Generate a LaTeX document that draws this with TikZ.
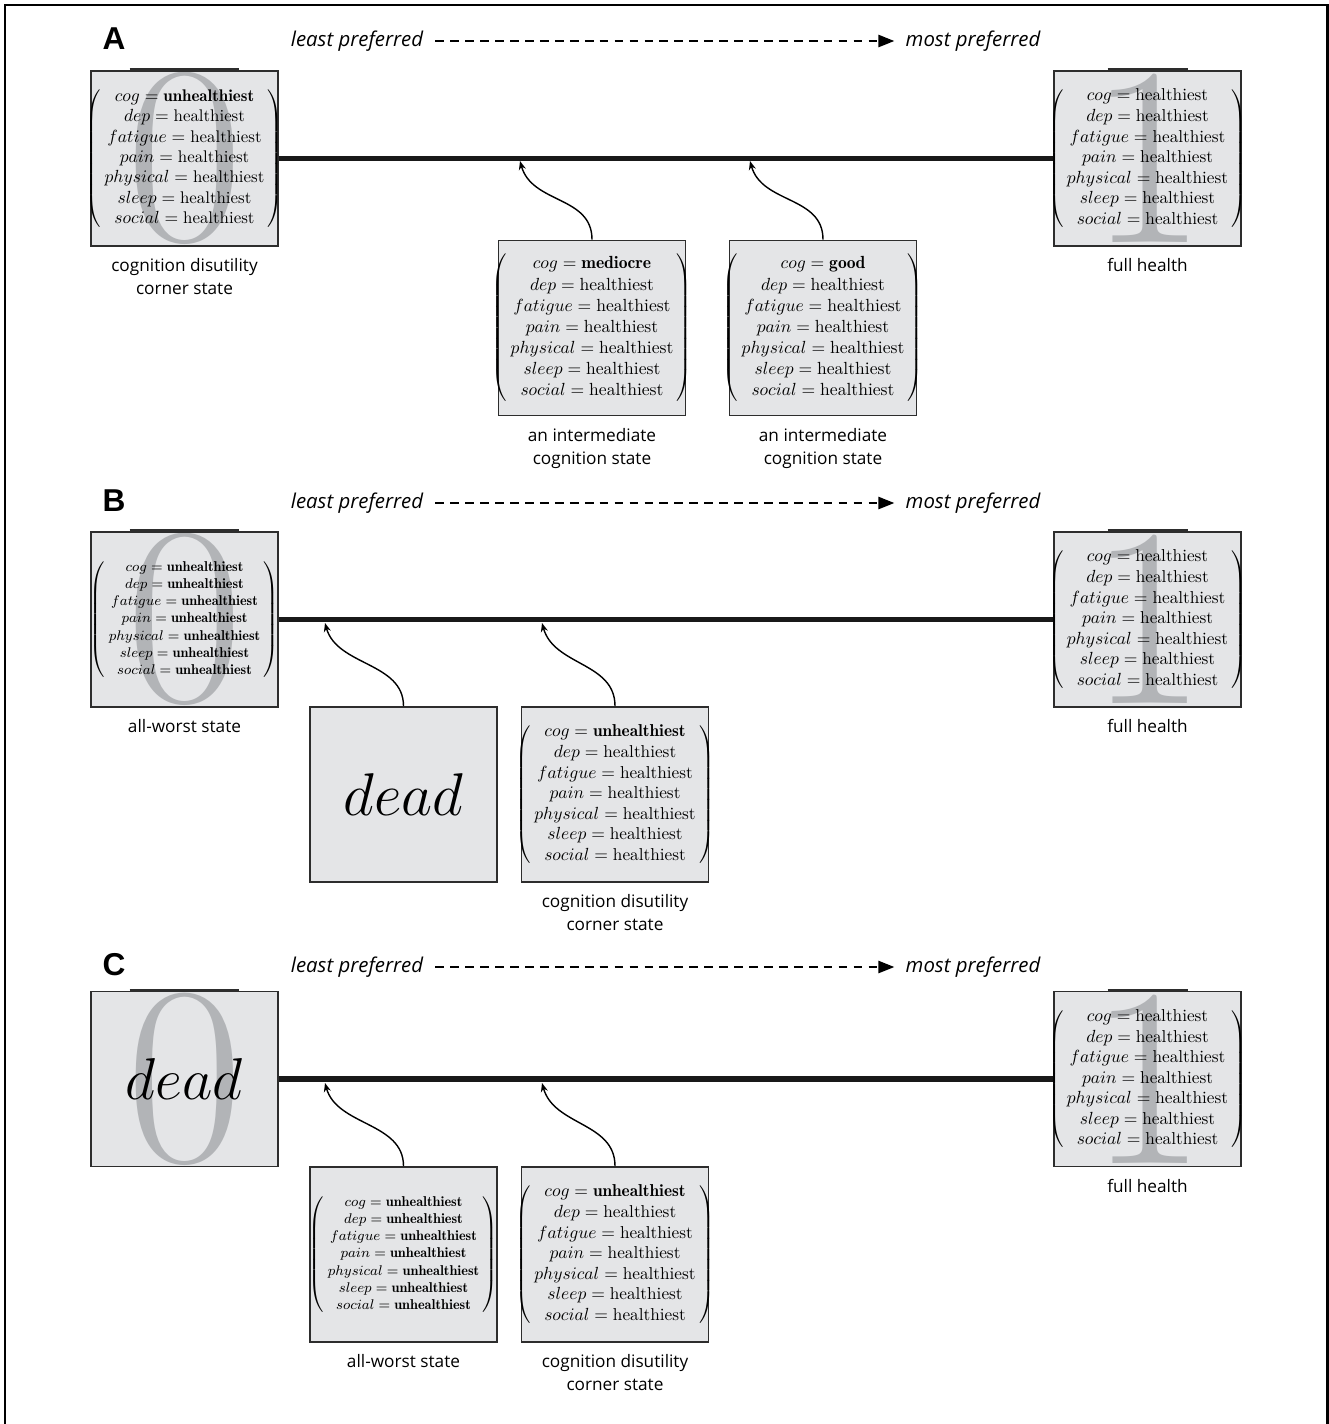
\documentclass[tikz,border=0pt]{standalone}
\usepackage{fontspec}
\newfontfamily\lblfont{Open Sans}
\newfontfamily\panfont{Liberation Sans}
\usetikzlibrary{arrows.meta,positioning}
\definecolor{boxgray}{RGB}{228,229,231}
\definecolor{digitgray}{RGB}{178,180,183}
\definecolor{edge}{RGB}{45,45,45}
\newcommand\hlth{\mathrm{healthiest}}
\newcommand\unh{\mathbf{unhealthiest}}
\newcommand\statevec[7]{$\left(\begin{array}{@{\hspace{2pt}}c@{\hspace{2pt}}}cog=#1\\dep=#2\\fatigue=#3\\pain=#4\\physical=#5\\sleep=#6\\social=#7\end{array}\right)$}

\begin{document}
\begin{tikzpicture}[x=0.02cm,y=-0.02cm,>=Stealth,
  stbox/.style={draw=edge,line width=1.1pt,fill=boxgray,minimum width=3.74cm,minimum height=3.5cm,inner sep=0pt},
  digit/.style={text=digitgray,font=\fontsize{145}{145}\selectfont,inner sep=0pt},
  lbl/.style={font=\lblfont\fontsize{9.8}{13}\selectfont,align=center,inner sep=0pt,below=6.5pt of #1},
  scaleline/.style={line width=3.4pt,draw=black!90},
  pick/.style={-{Stealth[length=5pt,width=4pt]},line width=0.8pt},
  hdr/.style={font=\panfont\bfseries\fontsize{18}{18}\selectfont},
  pref/.style={font=\lblfont\itshape\fontsize{11.6}{13}\selectfont},
  deadword/.style={font=\fontsize{24.88}{24.88}\selectfont,scale=#1,inner sep=0pt}]
\useasboundingbox (0,0) rectangle (1329,1424);
\draw[line width=1.7pt] (5,1450) -- (5,5) -- (1327.5,5) -- (1327.5,1450);
\foreach \p/\y in {A/41,B/503,C/967}
{ \node[hdr] (h\p) at (114,\y-2) {\p};
  \node[pref] (l\p) at (357,\y) {least preferred};
  \node[pref] (m\p) at (973,\y) {most preferred};
  \draw[-{Triangle[length=9pt,width=7pt]},line width=0.8pt,dash pattern=on 5pt off 3.5pt,shorten <=3.5pt,shorten >=3pt] (l\p) -- (m\p); }
% panel A
\node[stbox] (a0) at (184.5,158.5) {};
\node[digit] at (a0) {0};
\draw[line width=2.2pt,edge] ([xshift=-1.1cm]a0.north) -- ([xshift=1.1cm]a0.north);
\node at (a0) {\fontsize{9.6}{11.6}\selectfont\statevec{\unh}{\hlth}{\hlth}{\hlth}{\hlth}{\hlth}{\hlth}};
\node[stbox] (a1) at (1147.5,158.5) {};
\node[digit] at (a1) {1};
\draw[line width=2.2pt,edge] ([xshift=-0.8cm]a1.north) -- ([xshift=0.8cm]a1.north);
\node at (a1) {\fontsize{9.8}{11.7}\selectfont\statevec{\hlth}{\hlth}{\hlth}{\hlth}{\hlth}{\hlth}{\hlth}};
\node[stbox] (am1) at (592,328) {};
\node at (am1) {\fontsize{10}{12}\selectfont\statevec{\mathbf{mediocre}}{\hlth}{\hlth}{\hlth}{\hlth}{\hlth}{\hlth}};
\node[stbox] (am2) at (823,328) {};
\node at (am2) {\fontsize{10}{12}\selectfont\statevec{\mathbf{good}}{\hlth}{\hlth}{\hlth}{\hlth}{\hlth}{\hlth}};
\draw[scaleline] (a0) -- (a1);
\coordinate (pa1) at (520,161); \coordinate (pa2) at (750,161);
\draw[pick] (am1.north) .. controls +(0,-44) and +(12,43) .. (pa1);
\draw[pick] (am2.north) .. controls +(0,-44) and +(12,43) .. (pa2);
\node[lbl=a0] {cognition disutility\\corner state};
\node[lbl=a1] {full health};
\node[lbl=am1] {an intermediate\\cognition state};
\node[lbl=am2] {an intermediate\\cognition state};
% panel B
\node[stbox] (b0) at (184.5,619.5) {};
\node[digit] at (b0) {0};
\draw[line width=2.2pt,edge] ([xshift=-1.1cm]b0.north) -- ([xshift=1.1cm]b0.north);
\node at (b0) {\fontsize{8.1}{9.85}\selectfont\statevec{\unh}{\unh}{\unh}{\unh}{\unh}{\unh}{\unh}};
\node[stbox] (b1) at (1147.5,619.5) {};
\node[digit] at (b1) {1};
\draw[line width=2.2pt,edge] ([xshift=-0.8cm]b1.north) -- ([xshift=0.8cm]b1.north);
\node at (b1) {\fontsize{9.8}{11.7}\selectfont\statevec{\hlth}{\hlth}{\hlth}{\hlth}{\hlth}{\hlth}{\hlth}};
\node[stbox] (bd) at (403.5,794.5) {};
\node[deadword=1.38] at (bd) {$dead$};
\node[stbox] (bc) at (615,794.5) {};
\node at (bc) {\fontsize{9.8}{11.7}\selectfont\statevec{\unh}{\hlth}{\hlth}{\hlth}{\hlth}{\hlth}{\hlth}};
\draw[scaleline] (b0) -- (b1);
\coordinate (pb1) at (325,623); \coordinate (pb2) at (542,623);
\draw[pick] (bd.north) .. controls +(0,-44) and +(12,43) .. (pb1);
\draw[pick] (bc.north) .. controls +(0,-44) and +(12,43) .. (pb2);
\node[lbl=b0] {all-worst state};
\node[lbl=b1] {full health};
\node[lbl=bc] {cognition disutility\\corner state};
% panel C
\node[stbox] (c0) at (184.5,1079) {};
\node[digit] at (c0) {0};
\draw[line width=2.2pt,edge] ([xshift=-1.1cm]c0.north) -- ([xshift=1.1cm]c0.north);
\node[deadword=1.35] at (c0) {$dead$};
\node[stbox] (c1) at (1147.5,1079) {};
\node[digit] at (c1) {1};
\draw[line width=2.2pt,edge] ([xshift=-0.8cm]c1.north) -- ([xshift=0.8cm]c1.north);
\node at (c1) {\fontsize{9.8}{11.7}\selectfont\statevec{\hlth}{\hlth}{\hlth}{\hlth}{\hlth}{\hlth}{\hlth}};
\node[stbox] (cw) at (403.5,1254.5) {};
\node at (cw) {\fontsize{8.1}{9.85}\selectfont\statevec{\unh}{\unh}{\unh}{\unh}{\unh}{\unh}{\unh}};
\node[stbox] (cc) at (615,1254.5) {};
\node at (cc) {\fontsize{9.8}{11.7}\selectfont\statevec{\unh}{\hlth}{\hlth}{\hlth}{\hlth}{\hlth}{\hlth}};
\draw[scaleline] (c0) -- (c1);
\coordinate (pc1) at (325,1083); \coordinate (pc2) at (542,1083);
\draw[pick] (cw.north) .. controls +(0,-44) and +(12,43) .. (pc1);
\draw[pick] (cc.north) .. controls +(0,-44) and +(12,43) .. (pc2);
\node[lbl=c1] {full health};
\node[lbl=cw] {all-worst state};
\node[lbl=cc] {cognition disutility\\corner state};
\end{tikzpicture}
\end{document}
